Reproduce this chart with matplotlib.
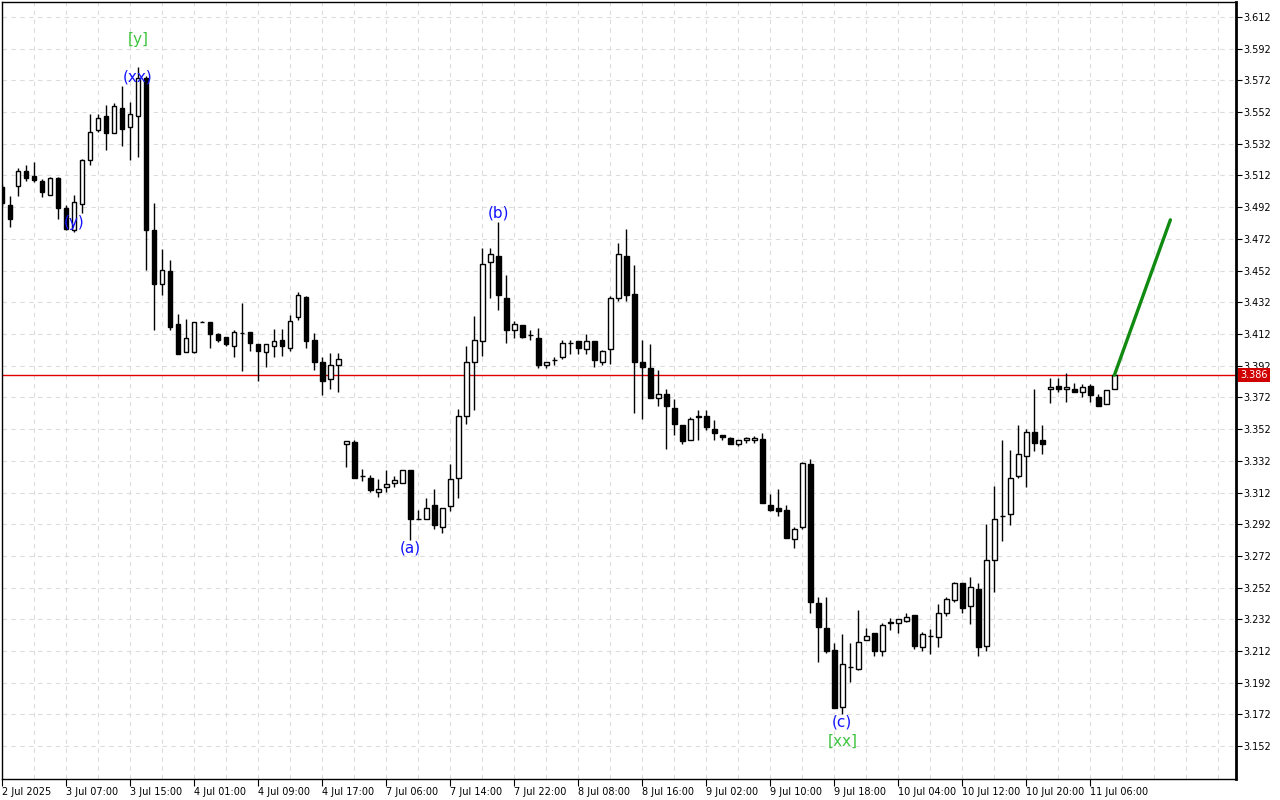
import matplotlib
matplotlib.use('Agg')
import matplotlib.pyplot as plt
from matplotlib.ticker import FixedLocator, MultipleLocator, FormatStrFormatter

# OHLC hourly candles
opens = [3.5049, 3.4935, 3.5051, 3.5150, 3.5118, 3.5087, 3.4999, 3.5106, 3.4917, 3.4778,
         3.4942, 3.5215, 3.5404, 3.5496, 3.5385, 3.5547, 3.5425, 3.5492, 3.5734, 3.4778,
         3.4435, 3.4520, 3.4180, 3.4009, 3.4005, 3.4198, 3.4198, 3.4117, 3.4098, 3.4043,
         3.4127, 3.4134, 3.4058, 3.4007, 3.4045, 3.4085, 3.4033, 3.4225, 3.4354, 3.4085,
         3.3944, 3.3837, 3.3926, 3.3428, 3.3436, 3.3224, 3.3214, 3.3125, 3.3157, 3.3182,
         3.3182, 3.3264, 3.2955, 3.2955, 3.3039, 3.2905, 3.3035, 3.3214, 3.3604, 3.3944,
         3.4077, 3.4575, 3.4614, 3.4350, 3.4146, 3.4178, 3.4112, 3.4096, 3.3926, 3.3959,
         3.3976, 3.4064, 3.4077, 3.4026, 3.4077, 3.3944, 3.4026, 3.4348, 3.4614, 3.4373,
         3.3944, 3.3907, 3.3718, 3.3743, 3.3655, 3.3545, 3.3451, 3.3604, 3.3604, 3.3522,
         3.3485, 3.3466, 3.3428, 3.3449, 3.3453, 3.3455, 3.3044, 3.3025, 3.3008, 3.2825,
         3.2905, 3.3298, 3.2426, 3.2264, 3.2126, 3.1765, 3.2021, 3.2006, 3.2187, 3.2237,
         3.2119, 3.2294, 3.2294, 3.2312, 3.2346, 3.2143, 3.2217, 3.2206, 3.2357, 3.2443,
         3.2548, 3.2405, 3.2514, 3.2153, 3.2697, 3.2972, 3.2987, 3.3224, 3.3352, 3.3504,
         3.3449, 3.3774, 3.3795, 3.3774, 3.3774, 3.3755, 3.3795, 3.3724, 3.3676, 3.3774]
highs = [3.5068, 3.4988, 3.5170, 3.5187, 3.5206, 3.5099, 3.5112, 3.5112, 3.4934, 3.4999,
         3.5225, 3.5509, 3.5509, 3.5566, 3.5580, 3.5683, 3.5586, 3.5803, 3.5750, 3.4946,
         3.4658, 3.4589, 3.4249, 3.4215, 3.4198, 3.4200, 3.4198, 3.4127, 3.4098, 3.4148,
         3.4316, 3.4134, 3.4058, 3.4058, 3.4154, 3.4154, 3.4238, 3.4387, 3.4360, 3.4127,
         3.3976, 3.3997, 3.3997, 3.3446, 3.3451, 3.3270, 3.3228, 3.3207, 3.3260, 3.3224,
         3.3264, 3.3264, 3.3010, 3.3088, 3.3140, 3.3025, 3.3298, 3.3644, 3.4047, 3.4236,
         3.4663, 3.4663, 3.4827, 3.4493, 3.4200, 3.4178, 3.4142, 3.4159, 3.3944, 3.3976,
         3.4081, 3.4081, 3.4077, 3.4117, 3.4077, 3.4022, 3.4362, 3.4694, 3.4784, 3.4558,
         3.4085, 3.4058, 3.3890, 3.3770, 3.3707, 3.3545, 3.3598, 3.3638, 3.3638, 3.3575,
         3.3485, 3.3470, 3.3453, 3.3472, 3.3476, 3.3497, 3.3109, 3.3144, 3.3039, 3.2905,
         3.3315, 3.3329, 3.2458, 3.2458, 3.2168, 3.2227, 3.2168, 3.2378, 3.2263, 3.2237,
         3.2300, 3.2327, 3.2325, 3.2363, 3.2346, 3.2242, 3.2256, 3.2415, 3.2464, 3.2556,
         3.2552, 3.2584, 3.2548, 3.2920, 3.3161, 3.3449, 3.3386, 3.3549, 3.3518, 3.3774,
         3.3549, 3.3844, 3.3844, 3.3875, 3.3812, 3.3806, 3.3806, 3.3743, 3.3766, 3.3860]
lows = [3.4929, 3.4792, 3.4992, 3.5082, 3.5080, 3.4982, 3.4998, 3.4845, 3.4778, 3.4761,
        3.4883, 3.5189, 3.5391, 3.5282, 3.5385, 3.5303, 3.5219, 3.5234, 3.4522, 3.4148,
        3.4369, 3.4144, 3.3991, 3.4005, 3.4003, 3.4196, 3.4030, 3.4072, 3.4043, 3.3976,
        3.3885, 3.4011, 3.3822, 3.3910, 3.3976, 3.3980, 3.4014, 3.4211, 3.4033, 3.3891,
        3.3734, 3.3774, 3.3753, 3.3280, 3.3209, 3.3192, 3.3123, 3.3091, 3.3123, 3.3154,
        3.3182, 3.2821, 3.2955, 3.2955, 3.2892, 3.2867, 3.3003, 3.3083, 3.3551, 3.3640,
        3.3984, 3.4345, 3.4270, 3.4062, 3.4096, 3.4096, 3.4085, 3.3907, 3.3907, 3.3923,
        3.3963, 3.3991, 3.3991, 3.3991, 3.3913, 3.3923, 3.3932, 3.4326, 3.4326, 3.3623,
        3.3581, 3.3718, 3.3665, 3.3396, 3.3480, 3.3428, 3.3451, 3.3451, 3.3514, 3.3451,
        3.3451, 3.3424, 3.3413, 3.3434, 3.3434, 3.3056, 3.3003, 3.2972, 3.2833, 3.2773,
        3.2892, 3.2363, 3.2052, 3.2105, 3.1758, 3.1723, 3.1922, 3.2000, 3.2187, 3.2086,
        3.2090, 3.2255, 3.2235, 3.2304, 3.2134, 3.2119, 3.2102, 3.2143, 3.2342, 3.2430,
        3.2363, 3.2290, 3.2086, 3.2121, 3.2493, 3.2814, 3.2915, 3.3214, 3.3154, 3.3381,
        3.3361, 3.3686, 3.3754, 3.3691, 3.3755, 3.3723, 3.3690, 3.3666, 3.3676, 3.3774]
closes = [3.4948, 3.4845, 3.5150, 3.5101, 3.5093, 3.5013, 3.5106, 3.4912, 3.4782, 3.4953,
          3.5219, 3.5395, 3.5482, 3.5385, 3.5557, 3.5410, 3.5509, 3.5734, 3.4778, 3.4438,
          3.4523, 3.4162, 3.3991, 3.4096, 3.4198, 3.4198, 3.4123, 3.4081, 3.4054, 3.4134,
          3.4127, 3.4062, 3.4011, 3.4058, 3.4077, 3.4043, 3.4203, 3.4366, 3.4074, 3.3944,
          3.3822, 3.3926, 3.3965, 3.3446, 3.3209, 3.3224, 3.3138, 3.3144, 3.3176, 3.3197,
          3.3264, 3.2955, 3.2955, 3.3025, 3.2913, 3.3025, 3.3207, 3.3604, 3.3944, 3.4083,
          3.4562, 3.4627, 3.4364, 3.4146, 3.4184, 3.4100, 3.4112, 3.3923, 3.3944, 3.3959,
          3.4064, 3.4064, 3.4033, 3.4077, 3.3955, 3.4011, 3.4348, 3.4625, 3.4364, 3.3942,
          3.3912, 3.3718, 3.3743, 3.3665, 3.3554, 3.3444, 3.3585, 3.3596, 3.3532, 3.3497,
          3.3470, 3.3428, 3.3453, 3.3466, 3.3466, 3.3056, 3.3010, 3.3003, 3.2833, 3.2892,
          3.3304, 3.2430, 3.2272, 3.2121, 3.1762, 3.2036, 3.2021, 3.2174, 3.2218, 3.2118,
          3.2286, 3.2306, 3.2325, 3.2337, 3.2153, 3.2225, 3.2217, 3.2357, 3.2447, 3.2548,
          3.2392, 3.2527, 3.2143, 3.2697, 3.2955, 3.2972, 3.3214, 3.3365, 3.3501, 3.3433,
          3.3425, 3.3787, 3.3774, 3.3787, 3.3755, 3.3787, 3.3735, 3.3666, 3.3766, 3.3860]

time_labels = ['2 Jul 2025', '3 Jul 07:00', '3 Jul 15:00', '4 Jul 01:00', '4 Jul 09:00',
               '4 Jul 17:00', '7 Jul 06:00', '7 Jul 14:00', '7 Jul 22:00', '8 Jul 08:00',
               '8 Jul 16:00', '9 Jul 02:00', '9 Jul 10:00', '9 Jul 18:00', '10 Jul 04:00',
               '10 Jul 12:00', '10 Jul 20:00', '11 Jul 06:00']
label_step = 8

# price scale ticks
price_ticks = [3.152, 3.172, 3.192, 3.212, 3.232, 3.252, 3.272, 3.292, 3.312, 3.332,
               3.352, 3.372, 3.392, 3.412, 3.432, 3.452, 3.472, 3.492, 3.512, 3.532,
               3.552, 3.572, 3.592, 3.612]

# wave marks: text, bar index, price, colour
wave_texts = ['[y]', '(xx)', '(y)', '(b)', '(a)', '(c)', '[xx]']
wave_bars = [17, 17, 9, 62, 51, 105, 105]
wave_prices = [3.5975, 3.5742, 3.4822, 3.4885, 3.2769, 3.1673, 3.1553]
wave_colors = ['#3ec43e', '#1414ff', '#1414ff', '#1414ff', '#1414ff', '#1414ff', '#3ec43e']

# forecast line from last close
forecast_bars = [139, 146]
forecast_prices = [3.386, 3.484]

last_price = closes[-1]

fig = plt.figure(figsize=(12.8, 8), dpi=100)
ax = fig.add_axes([2 / 1280, 21 / 800, 1234 / 1280, 777 / 800])

n = len(opens)
xs = list(range(n))
up = [c >= o for o, c in zip(opens, closes)]

# wicks
ax.vlines(xs, lows, highs, color='black', linewidth=1.0, zorder=3)
# bodies
bottoms = [min(o, c) for o, c in zip(opens, closes)]
heights = [abs(c - o) for o, c in zip(opens, closes)]
faces = ['white' if u else 'black' for u in up]
ax.bar(xs, heights, bottom=bottoms, width=0.6, color=faces, edgecolor='black',
       linewidth=1.0, zorder=4)

# current price line
ax.axhline(last_price, color='#e00000', linewidth=1.0, zorder=2)

# forecast line
ax.plot(forecast_bars, forecast_prices, color='#108a10', linewidth=2.4,
        solid_capstyle='round', zorder=5)

for t, b, p, c in zip(wave_texts, wave_bars, wave_prices, wave_colors):
    ax.text(b, p, t, color=c, fontsize=11, ha='center', va='center', zorder=6)

ax.set_xlim(0, 154.2)
ax.set_ylim(3.1313, 3.6214)

# grid
ax.xaxis.set_major_locator(FixedLocator([i * label_step for i in range(len(time_labels))]))
ax.xaxis.set_minor_locator(MultipleLocator(4))
ax.set_xticklabels(time_labels, fontsize=7, ha='left')
ax.yaxis.set_major_locator(FixedLocator(price_ticks))
ax.yaxis.set_major_formatter(FormatStrFormatter('%.3f'))
ax.grid(which='both', color='#dcdcdc', linestyle=(0, (4, 4)), linewidth=0.8, zorder=0)
ax.set_axisbelow(True)

ax.yaxis.tick_right()
ax.tick_params(axis='y', labelsize=7, length=4, width=0.8, pad=1, direction='out')
ax.tick_params(axis='x', which='major', length=5, width=0.8, pad=1, direction='out')
ax.tick_params(axis='x', which='minor', length=0)

for s in ['left', 'bottom', 'top']:
    ax.spines[s].set_linewidth(1.0)
ax.spines['right'].set_linewidth(2.0)

# price tag on the axis
ax.annotate(f'{last_price:.3f}', xy=(1.0, last_price), xycoords=('axes fraction', 'data'),
            xytext=(3, 0), textcoords='offset points', ha='left', va='center',
            fontsize=7, color='white',
            bbox=dict(boxstyle='square,pad=0.2', facecolor='#d00000', edgecolor='none'),
            zorder=10, annotation_clip=False)

fig.savefig('out.png', dpi=100)
